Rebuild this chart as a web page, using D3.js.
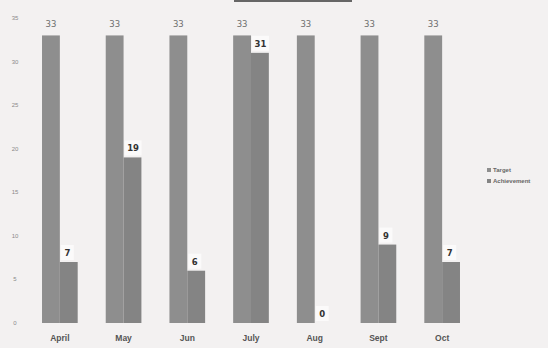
<!DOCTYPE html>
<html><head><meta charset="utf-8">
<script src="https://cdn.jsdelivr.net/npm/d3@7"></script>
<style>body{margin:0;background:#f3f1f1;} svg{display:block;}</style>
</head><body><svg id="c" width="548" height="348"></svg>
<script>
const months = ["April","May","Jun","July","Aug","Sept","Oct"];
const target = [33,33,33,33,33,33,33];
const achievement = [7,19,6,31,0,9,7];
const yTicks = [0,5,10,15,20,25,30,35];
const seriesNames = ["Target","Achievement"];

const svg = d3.select("#c");
svg.append("rect").attr("width",548).attr("height",348).attr("fill","#f3f1f1");
const x = d3.scaleBand().domain(months).range([28,474]).paddingInner(0.44).paddingOuter(0.22);
const y = d3.scaleLinear().domain([0,35]).range([323,18]);
const bw = x.bandwidth()/2;

// title box edge
svg.append("line").attr("x1",234).attr("x2",352).attr("y1",1).attr("y2",1).attr("stroke","#666").attr("stroke-width",2);

// y tick labels
svg.selectAll(".yt").data(yTicks).join("text")
  .attr("x",15).attr("y",d=>y(d)+2).attr("text-anchor","middle")
  .attr("font-family","Liberation Sans, Arial").attr("font-size",6).attr("fill","#8a8a8a").text(d=>d);

// target bars
svg.selectAll(".tb").data(months).join("rect")
  .attr("x",d=>x(d)).attr("y",(d,i)=>y(target[i])).attr("width",bw)
  .attr("height",(d,i)=>y(0)-y(target[i])).attr("fill","#8e8e8e");
// achievement bars
svg.selectAll(".ab").data(months).join("rect")
  .attr("x",d=>x(d)+bw).attr("y",(d,i)=>y(achievement[i])).attr("width",bw)
  .attr("height",(d,i)=>y(0)-y(achievement[i])).attr("fill","#848484");

// target labels
svg.selectAll(".tl").data(months).join("text")
  .attr("x",d=>x(d)+bw/2).attr("y",(d,i)=>y(target[i])-8).attr("text-anchor","middle")
  .attr("font-family","DejaVu Sans, sans-serif").attr("font-size",8.5).attr("fill","#6e6e6e").text((d,i)=>target[i]);

// achievement labels with white box
const ag = svg.selectAll(".al").data(months).join("g");
ag.append("rect")
  .attr("x",d=>x(d)+bw+1).attr("y",(d,i)=>y(achievement[i])-17).attr("width",(d,i)=>achievement[i]>=10?17:13).attr("height",15)
  .attr("fill","#fbfafa");
ag.append("text")
  .attr("x",(d,i)=>x(d)+bw+(achievement[i]>=10?9.5:7.5)).attr("y",(d,i)=>y(achievement[i])-6).attr("text-anchor","middle")
  .attr("font-family","DejaVu Sans, sans-serif").attr("font-weight","bold").attr("font-size",8.5).attr("fill","#333").text((d,i)=>achievement[i]);

// month labels
svg.selectAll(".ml").data(months).join("text")
  .attr("x",d=>x(d)+bw).attr("y",341).attr("text-anchor","middle")
  .attr("font-family","Liberation Sans, Arial").attr("font-weight","bold").attr("font-size",8.5).attr("fill","#555").text(d=>d);

// legend
const colors = ["#8e8e8e","#848484"];
const lg = svg.selectAll(".lg").data(seriesNames).join("g").attr("transform",(d,i)=>`translate(487,${172+i*11})`);
lg.append("rect").attr("x",0).attr("y",-4).attr("width",4).attr("height",4).attr("fill",(d,i)=>colors[i]);
lg.append("text").attr("x",6).attr("y",0).attr("font-family","Liberation Sans, Arial").attr("font-weight","bold")
  .attr("font-size",6).attr("fill","#666").text(d=>d);
</script></body></html>
